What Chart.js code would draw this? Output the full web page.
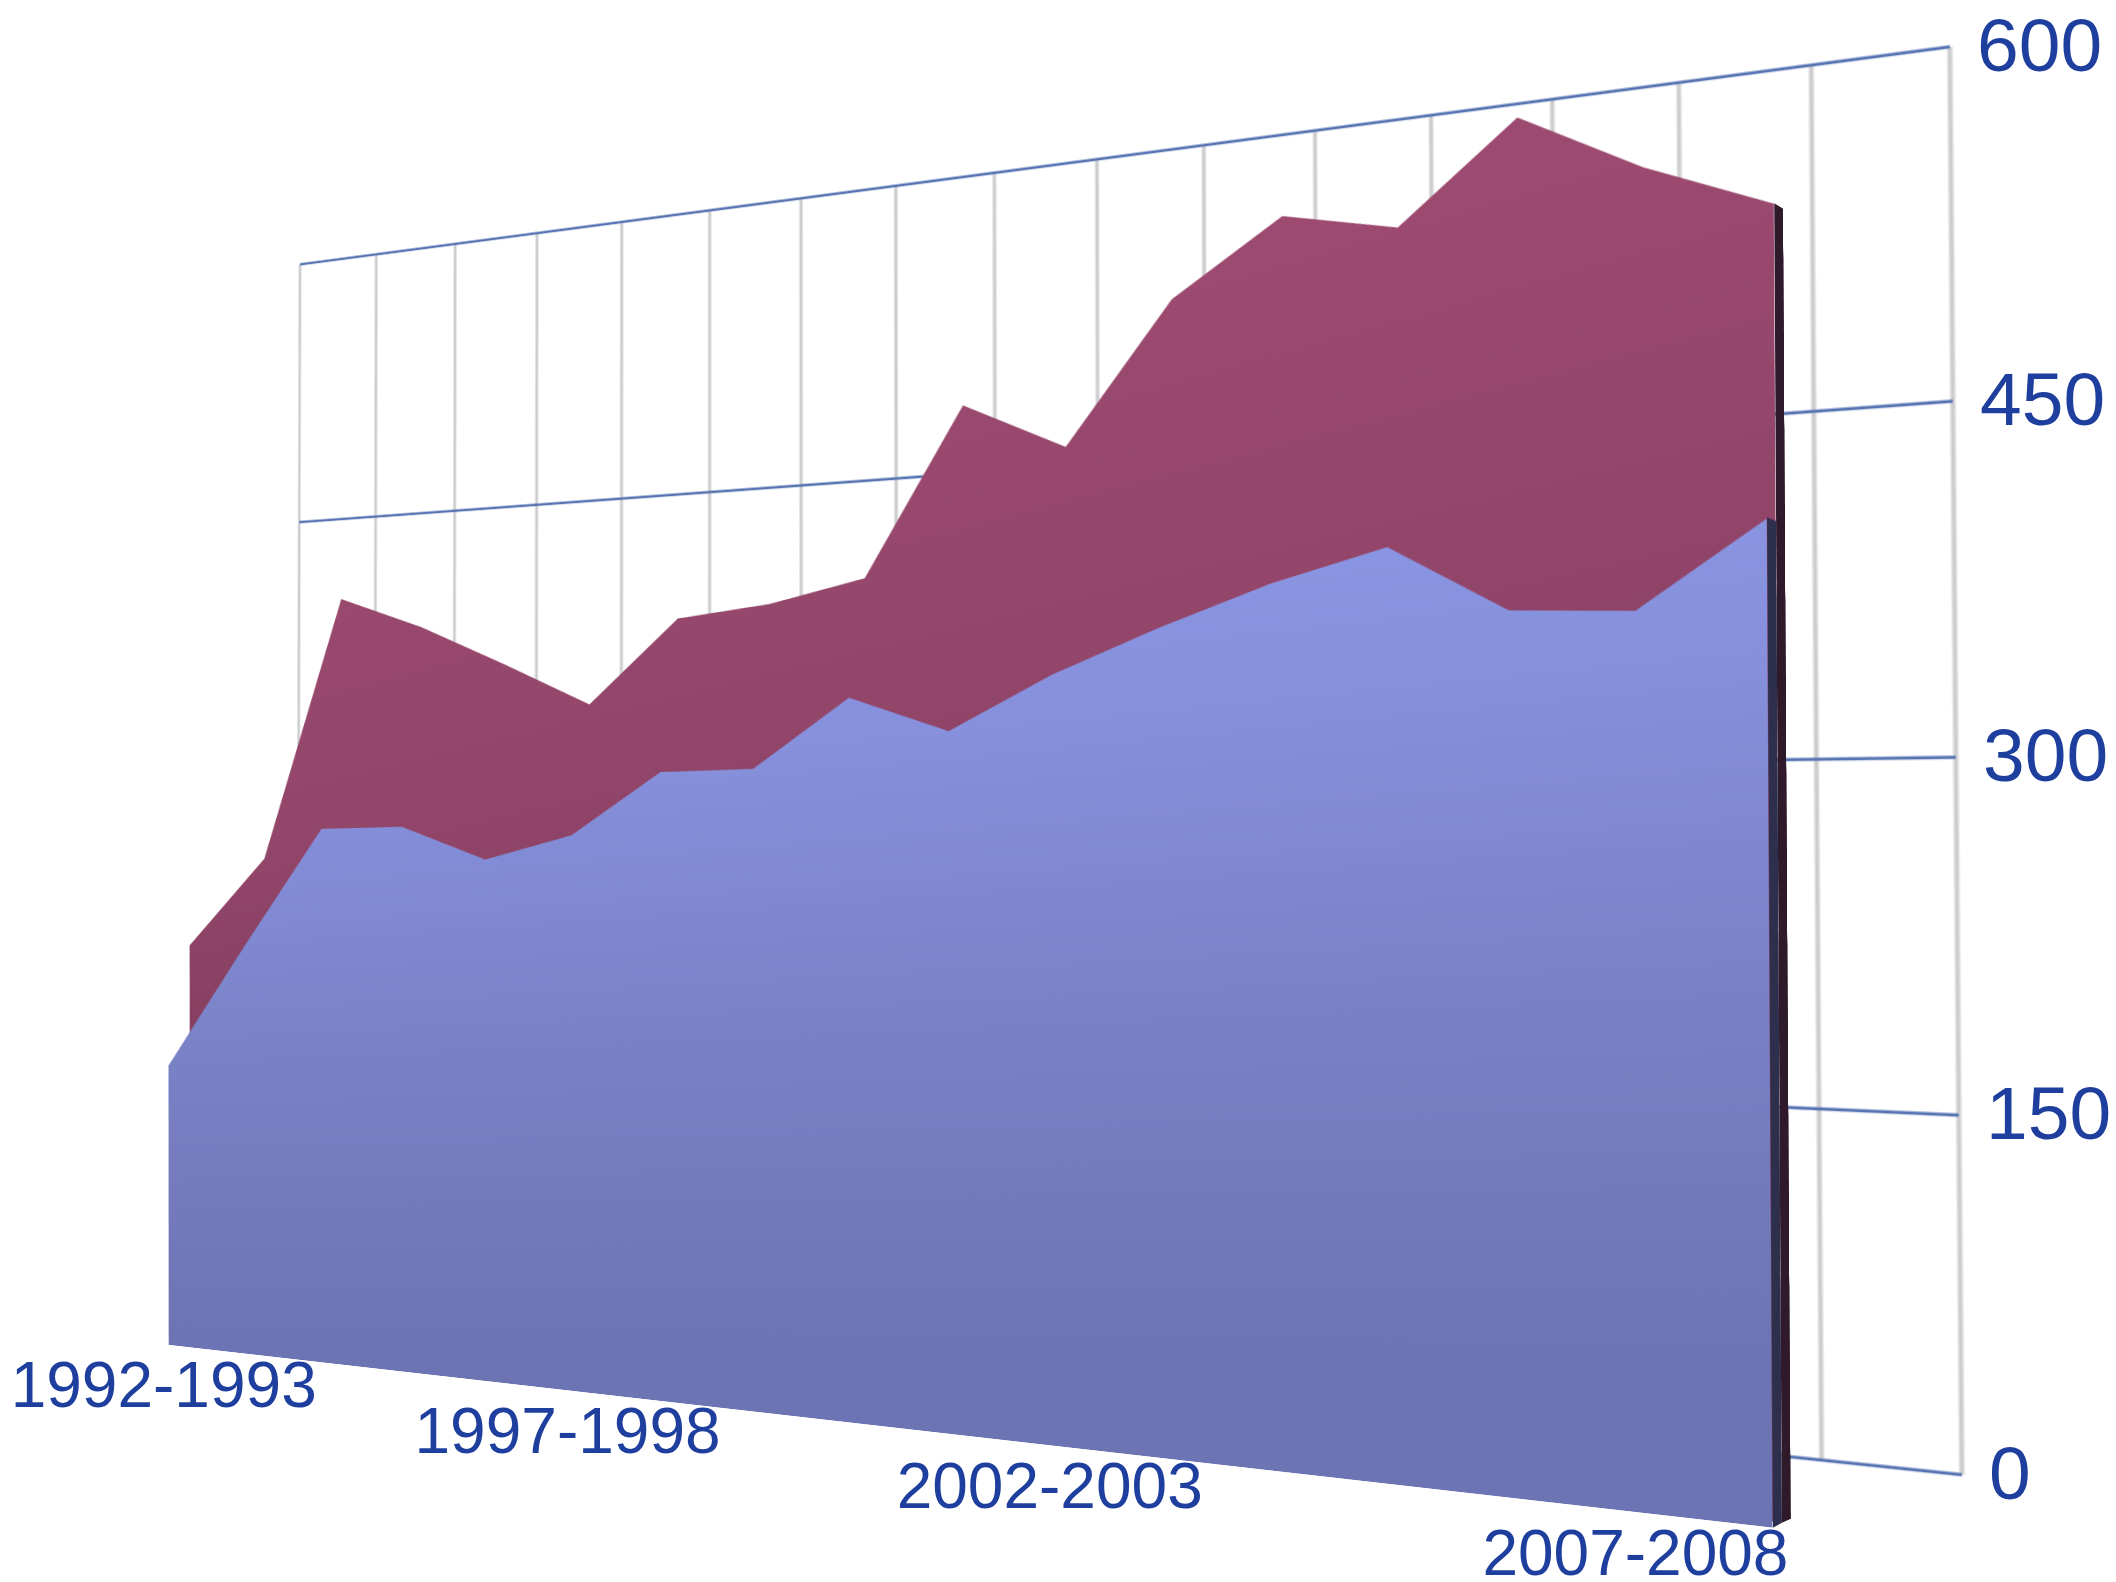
<!DOCTYPE html>
<html>
<head>
<meta charset="utf-8">
<title>Area chart</title>
<script src="https://cdn.jsdelivr.net/npm/chart.js@4"></script>
<style>
  html, body { margin: 0; background: #fff; }
  #stage { position: relative; width: 2116px; height: 1582px; overflow: hidden; }
  #stage canvas { position: absolute; left: 0; top: 0; transform-origin: 0 0; }
</style>
</head>
<body>
<div id="stage"></div>
<script>
const categories = [
  "1992-1993", "1993-1994", "1994-1995", "1995-1996", "1996-1997", "1997-1998",
  "1998-1999", "1999-2000", "2000-2001", "2001-2002", "2002-2003", "2003-2004",
  "2004-2005", "2005-2006", "2006-2007", "2007-2008", "2008-2009"
];
const frontValues = [146, 209, 270, 271, 255, 267, 297, 298, 330, 314, 338, 357, 374, 387, 359, 357, 391];
const backValues = [209, 255, 388, 372, 352, 331, 371, 376, 386, 462, 440, 501, 532, 522, 562, 536, 516];
const valueTicks = [0, 150, 300, 450, 600];
const labelEvery = 5;

const TEXT_COLOR = "#1f3f9f";
const FONT = '"Liberation Sans", Arial, sans-serif';

// corners of each plane on the page: top left, top right, bottom right, bottom left
const wallPlane = [[300, 264.5], [1950, 47], [1962, 1475], [297, 1301]];
const frontPlane = [[168, 200], [1764, -18], [1773, 1528], [168.7, 1345]];
const backPlane = [[189, 206], [1773, -10], [1782, 1523], [190, 1342]];
const frontSidePlane = [[1764, -18], [1773, -10], [1782, 1523], [1773, 1528]];
const backSidePlane = [[1773, -10], [1782, -3], [1791, 1519], [1782, 1523]];

const stage = document.getElementById("stage");

// projective map from a chart area onto four page points
function planeMatrix(area, quad) {
  const [[x0, y0], [x1, y1], [x2, y2], [x3, y3]] = quad;
  const dx1 = x1 - x2, dx2 = x3 - x2, sx = x0 - x1 + x2 - x3;
  const dy1 = y1 - y2, dy2 = y3 - y2, sy = y0 - y1 + y2 - y3;
  const det = dx1 * dy2 - dx2 * dy1;
  const g = (sx * dy2 - dx2 * sy) / det;
  const h = (dx1 * sy - sx * dy1) / det;
  const a = x1 - x0 + g * x1, b = x3 - x0 + h * x3;
  const d = y1 - y0 + g * y1, e = y3 - y0 + h * y3;
  const w = area.right - area.left, t = area.bottom - area.top;
  return {
    a: a / w, b: b / t, c: x0 - a * area.left / w - b * area.top / t,
    d: d / w, e: e / t, f: y0 - d * area.left / w - e * area.top / t,
    g: g / w, h: h / t, i: 1 - g * area.left / w - h * area.top / t
  };
}

function project(m, x, y) {
  const q = m.g * x + m.h * y + m.i;
  return { x: (m.a * x + m.b * y + m.c) / q, y: (m.d * x + m.e * y + m.f) / q };
}

function addCanvas(width, height) {
  const canvas = document.createElement("canvas");
  canvas.width = width;
  canvas.height = height;
  stage.appendChild(canvas);
  return canvas;
}

function placeChart(chart, quad) {
  const m = planeMatrix(chart.chartArea, quad);
  chart.canvas.style.transform = "matrix3d(" + [
    m.a, m.d, 0, m.g,
    m.b, m.e, 0, m.h,
    0, 0, 1, 0,
    m.c, m.f, 0, m.i
  ].join(",") + ")";
  return m;
}

// stops are [value at the left edge, color]; tilt is how many value units
// a band of color climbs from the left edge to the right edge
function valueGradient(stops, tilt) {
  return (context) => {
    const { chart } = context;
    const area = chart.chartArea;
    if (!area) return stops[0][1];
    const y = chart.scales.y;
    const top = y.getPixelForValue(600);
    const height = y.getPixelForValue(0) - top;
    const width = area.right - area.left;
    const rise = tilt / 600 * height;
    const k = width * height / (rise * rise + width * width);
    const gradient = chart.ctx.createLinearGradient(area.left, top, area.left + k * rise, top + k * width);
    stops.forEach(([value, color]) => gradient.addColorStop((600 - value) / 600, color));
    return gradient;
  };
}

// one filled area standing on its own plane
function areaChart(width, height, labels, values, fillColor, quad) {
  const chart = new Chart(addCanvas(width, height), {
    type: "line",
    data: {
      labels,
      datasets: [{
        data: values,
        fill: "origin",
        backgroundColor: fillColor,
        borderWidth: 0,
        pointRadius: 0,
        tension: 0
      }]
    },
    options: {
      responsive: false,
      animation: false,
      devicePixelRatio: 2,
      plugins: { legend: { display: false }, tooltip: { enabled: false } },
      scales: {
        x: { display: false, offset: false },
        y: { display: false, min: 0, max: 600 }
      }
    }
  });
  placeChart(chart, quad);
  return chart;
}

// back wall with the grid
const wallChart = new Chart(addCanvas(1400, 1200), {
  type: "line",
  data: { labels: categories, datasets: [{ data: [], pointRadius: 0 }] },
  options: {
    responsive: false,
    animation: false,
    devicePixelRatio: 2,
    layout: { padding: 4 },
    plugins: { legend: { display: false }, tooltip: { enabled: false } },
    scales: {
      x: {
        offset: false,
        grid: { color: "#cdcdcf", lineWidth: 3, drawTicks: false },
        border: { display: false },
        ticks: { display: false, autoSkip: false }
      },
      y: {
        min: 0,
        max: 600,
        afterBuildTicks: (axis) => { axis.ticks = valueTicks.map((value) => ({ value })); },
        grid: { color: "#5674b2", lineWidth: 2.8, drawTicks: false },
        border: { display: false },
        ticks: { display: false }
      }
    }
  }
});
const wallMatrix = placeChart(wallChart, wallPlane);

const lastBack = backValues[backValues.length - 1];
const lastFront = frontValues[frontValues.length - 1];

areaChart(120, 1400, ["near", "far"], [lastBack, lastBack], "#2f1a2b", backSidePlane);
areaChart(1400, 1400, categories, backValues, valueGradient([
  [0, "#7d3a5a"], [150, "#863f60"], [250, "#92466a"], [400, "#9c4a6f"], [600, "#a04a72"]
], 150), backPlane);
areaChart(120, 1400, ["near", "far"], [lastFront, lastFront], "#2e2e4d", frontSidePlane);
const frontChart = areaChart(1400, 1400, categories, frontValues, valueGradient([
  [0, "#6d74b3"], [150, "#7a82c6"], [280, "#8690dc"], [340, "#8a95e3"], [600, "#8490dc"]
], 60), frontPlane);

// axis text stays upright, so it goes on a flat layer on top
const frontMatrix = planeMatrix(frontChart.chartArea, frontPlane);
const axisText = {
  id: "axisText",
  afterDraw(chart) {
    const { ctx } = chart;
    ctx.save();
    ctx.fillStyle = TEXT_COLOR;
    ctx.textBaseline = "middle";

    ctx.font = "75px " + FONT;
    ctx.textAlign = "left";
    const wallX = wallChart.chartArea.right;
    valueTicks.forEach((tick) => {
      const p = project(wallMatrix, wallX, wallChart.scales.y.getPixelForValue(tick));
      ctx.fillText(String(tick), p.x + 27, p.y + 3);
    });

    ctx.font = "64px " + FONT;
    ctx.textAlign = "center";
    const baseY = frontChart.scales.y.getPixelForValue(0);
    categories.forEach((label, i) => {
      if (i % labelEvery !== 0) return;
      const p = project(frontMatrix, frontChart.scales.x.getPixelForValue(i), baseY);
      ctx.fillText(label, p.x - 5, p.y + 44);
    });
    ctx.restore();
  }
};

new Chart(addCanvas(2116, 1582), {
  type: "line",
  data: { labels: [], datasets: [] },
  options: {
    responsive: false,
    animation: false,
    devicePixelRatio: 1,
    plugins: { legend: { display: false }, tooltip: { enabled: false } },
    scales: { x: { display: false }, y: { display: false } }
  },
  plugins: [axisText]
});
</script>
</body>
</html>
